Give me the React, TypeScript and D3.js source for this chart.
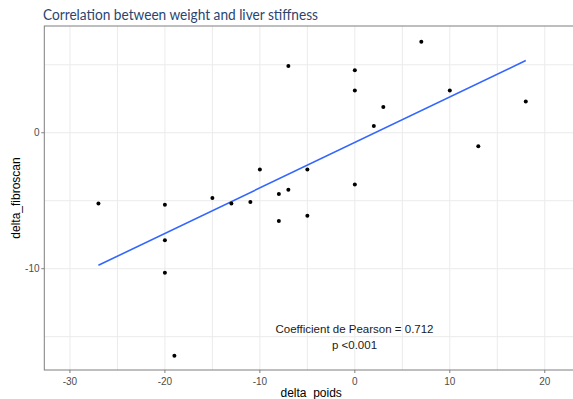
import React from "react";
import * as d3 from "d3";

const deltaPoids = [-27, -20, -20, -20, -19, -15, -13, -11, -10, -8, -8, -7, -7, -5, -5, 0, 0, 0, 2, 3, 7, 10, 13, 18];
const deltaFibroscan = [-5.2, -5.3, -7.9, -10.3, -16.4, -4.8, -5.2, -5.1, -2.7, -4.5, -6.5, -4.2, 4.9, -2.7, -6.1, 4.6, 3.1, -3.8, 0.5, 1.9, 6.7, 3.1, -1.0, 2.3];
const xMajorTicks = [-30, -20, -10, 0, 10, 20];
const xMinorTicks = [-25, -15, -5, 5, 15, 25];
const yMajorTicks = [0, -10];
const yMinorTicks = [5, -5, -15];
const titleText = "Correlation between weight and liver stiffness";
const xTitle = "delta_poids";
const yTitle = "delta_fibroscan";
const annotation = ["Coefficient de Pearson = 0.712", "p <0.001"];

export default function App() {
  const W = 573, H = 399;
  const left = 44.3, right = 578, top = 26, bottom = 370;
  const x = d3.scaleLinear().domain([-32.7, 23.5]).range([left, right]);
  const y = d3.scaleLinear().domain([7.85, -17.45]).range([top, bottom]);

  const n = deltaPoids.length;
  const mx = d3.mean(deltaPoids)!;
  const my = d3.mean(deltaFibroscan)!;
  let sxy = 0, sxx = 0;
  for (let i = 0; i < n; i++) {
    sxy += (deltaPoids[i] - mx) * (deltaFibroscan[i] - my);
    sxx += (deltaPoids[i] - mx) ** 2;
  }
  const slope = sxy / sxx;
  const intercept = my - slope * mx;
  const [x0, x1] = d3.extent(deltaPoids) as [number, number];
  const line = d3.line<number>().x((d) => x(d)).y((d) => y(intercept + slope * d));

  const axisFont = "'Liberation Sans', Arial, sans-serif";
  const grid = "#ebebeb";
  const axisCol = "#7f7f7f";

  return (
    <svg width={W} height={H} style={{ position: "absolute", left: 0, top: 0, background: "#fff" }}>
      <rect width={W} height={H} fill="#fff" />
      <text x={43} y={20} fontFamily="Lato, 'Open Sans', sans-serif" fontSize={15.5} fill="#2b4570" textLength={275} lengthAdjust="spacingAndGlyphs">
        {titleText}
      </text>
      {[...xMinorTicks, ...xMajorTicks].map((t) => (
        <line key={"xg" + t} x1={x(t)} x2={x(t)} y1={top} y2={bottom} stroke={grid} strokeWidth={1} />
      ))}
      {[...yMinorTicks, ...yMajorTicks].map((t) => (
        <line key={"yg" + t} x1={left} x2={right} y1={y(t)} y2={y(t)} stroke={grid} strokeWidth={1} />
      ))}
      <path d={line([x0, x1]) || ""} fill="none" stroke="#3366FF" strokeWidth={1.6} />
      {deltaPoids.map((d, i) => (
        <circle key={i} cx={x(d)} cy={y(deltaFibroscan[i])} r={2} fill="#000" />
      ))}
      <rect x={left} y={top} width={right - left} height={bottom - top} fill="none" stroke={axisCol} strokeWidth={1} />
      {xMajorTicks.map((t) => (
        <g key={"xt" + t}>
          <line x1={x(t)} x2={x(t)} y1={bottom} y2={bottom + 3} stroke={axisCol} />
          <text x={x(t)} y={385} textAnchor="middle" fontFamily={axisFont} fontSize={10} fill="#4d4d4d">
            {t}
          </text>
        </g>
      ))}
      {yMajorTicks.map((t) => (
        <g key={"yt" + t}>
          <line x1={left - 3} x2={left} y1={y(t)} y2={y(t)} stroke={axisCol} />
          <text x={39.5} y={y(t) + 3.5} textAnchor="end" fontFamily={axisFont} fontSize={10} fill="#4d4d4d">
            {t}
          </text>
        </g>
      ))}
      <text x={(left + right) / 2} y={397} textAnchor="middle" fontFamily={axisFont} fontSize={12} fill="#000">
        {xTitle}
      </text>
      <text transform={`translate(20,${(top + bottom) / 2}) rotate(-90)`} textAnchor="middle" fontFamily={axisFont} fontSize={12} fill="#000">
        {yTitle}
      </text>
      {annotation.map((s, i) => (
        <text key={s} x={354.5} y={332.5 + i * 16.5} textAnchor="middle" fontFamily={axisFont} fontSize={11.5} fill="#1a1a1a">
          {s}
        </text>
      ))}
    </svg>
  );
}
